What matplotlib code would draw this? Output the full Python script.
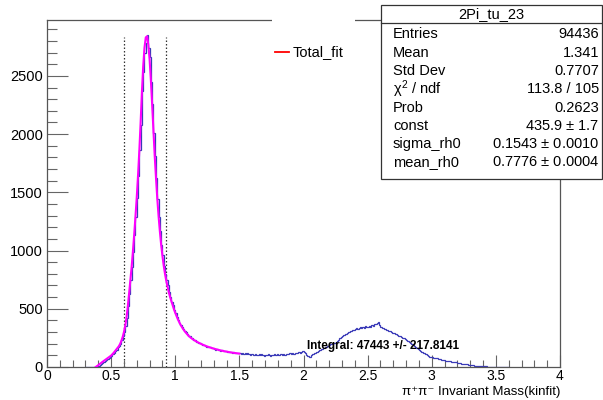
import numpy as np
import matplotlib
matplotlib.use("Agg")
import matplotlib.pyplot as plt
from matplotlib.patches import Rectangle
from matplotlib.lines import Line2D
from matplotlib.ticker import MultipleLocator, FuncFormatter

plt.rcParams['font.family'] = ['Liberation Sans', 'DejaVu Sans']
plt.rcParams['mathtext.fontset'] = 'custom'
plt.rcParams['mathtext.rm'] = 'Liberation Sans'
plt.rcParams['mathtext.it'] = 'Liberation Sans'

# ---------------- data ----------------
bin_lo = 0.30
bin_width = 0.01
counts = [
    0, 0, 0, 0, 0, 0, 0, 0, 2, 5,
    12, 20, 30, 38, 46, 55, 62, 72, 78, 86,
    95, 108, 122, 140, 150, 168, 178, 198, 228, 262,
    298, 350, 425, 520, 630, 750, 860, 990, 1130, 1290,
    1450, 1640, 1860, 2080, 2370, 2530, 2700, 2780, 2850, 2740,
    2660, 2450, 2260, 2010, 1810, 1620, 1440, 1290, 1170, 1050,
    960, 870, 800, 745, 700, 640, 605, 560, 535, 490,
    465, 430, 405, 380, 360, 345, 330, 310, 300, 282,
    270, 262, 250, 245, 232, 230, 218, 215, 205, 210,
    195, 192, 188, 180, 176, 175, 168, 170, 160, 162,
    158, 150, 152, 146, 148, 140, 142, 138, 134, 136,
    130, 132, 126, 128, 122, 125, 120, 118, 122, 116,
    118, 112, 120, 110, 118, 108, 116, 112, 106, 114,
    110, 104, 112, 106, 100, 108, 104, 110, 102, 98,
    106, 100, 108, 102, 96, 104, 100, 108, 104, 110,
    102, 106, 112, 104, 110, 106, 114, 108, 112, 116,
    110, 118, 114, 120, 116, 124, 128, 122, 132, 138,
    130, 118, 105, 95, 88, 90, 100, 108, 118, 124,
    130, 136, 142, 146, 152, 160, 166, 172, 178, 184,
    190, 195, 200, 206, 210, 215, 222, 235, 245, 258,
    265, 272, 280, 286, 292, 300, 305, 310, 318, 322,
    326, 332, 328, 336, 340, 332, 344, 338, 348, 342,
    346, 355, 345, 360, 352, 365, 372, 380, 385, 360,
    345, 335, 338, 328, 322, 318, 312, 305, 300, 292,
    290, 284, 280, 272, 268, 262, 256, 250, 246, 240,
    232, 224, 215, 208, 200, 190, 182, 174, 165, 158,
    150, 140, 132, 124, 116, 108, 102, 95, 88, 85,
    82, 80, 78, 76, 74, 70, 67, 64, 60, 58,
    55, 53, 51, 50, 48, 47, 46, 44, 42, 40,
    37, 35, 32, 30, 28, 26, 24, 22, 20, 18,
    16, 15, 14, 12, 11, 10, 9, 8, 7, 6,
    6, 5, 5, 4, 4, 3, 3, 3, 2, 2,
    2, 1, 1, 1, 1, 1, 0, 1, 0, 0,
]

fit_mass = [0.38, 0.39, 0.40, 0.41, 0.42, 0.43, 0.44, 0.45, 0.46, 0.47,
            0.48, 0.49, 0.50, 0.51, 0.52, 0.53, 0.54, 0.55, 0.56, 0.57,
            0.58, 0.59, 0.60, 0.61, 0.62, 0.63, 0.64, 0.65, 0.66, 0.67,
            0.68, 0.69, 0.70, 0.71, 0.72, 0.73, 0.74, 0.75, 0.76, 0.77,
            0.78, 0.79, 0.80, 0.81, 0.82, 0.83, 0.84, 0.85, 0.86, 0.87,
            0.88, 0.89, 0.90, 0.91, 0.92, 0.93, 0.94, 0.95, 0.96, 0.97,
            0.98, 0.99, 1.00, 1.02, 1.04, 1.06, 1.08, 1.10, 1.12, 1.14,
            1.16, 1.18, 1.20, 1.22, 1.24, 1.26, 1.28, 1.30, 1.32, 1.34,
            1.36, 1.38, 1.40, 1.42, 1.44, 1.46, 1.48, 1.50]
fit_vals = [0, 8, 16, 25, 33, 42, 50, 58, 66, 74,
            82, 90, 98, 110, 122, 136, 150, 164, 178, 198,
            225, 258, 300, 355, 425, 520, 630, 745, 860, 995,
            1140, 1295, 1460, 1650, 1860, 2100, 2360, 2580, 2740, 2830,
            2840, 2770, 2640, 2460, 2250, 2030, 1810, 1620, 1445, 1295,
            1165, 1050, 955, 870, 800, 740, 690, 640, 600, 565,
            530, 495, 465, 410, 365, 328, 298, 272, 252, 236,
            222, 210, 199, 189, 180, 172, 165, 158, 152, 146,
            141, 136, 132, 128, 124, 121, 118, 115]

int_lo, int_hi = 0.60, 0.93
line_top = 2830

x_title = "\u03c0\u207a\u03c0\u207b Invariant Mass(kinfit)"
stats_title = "2Pi_tu_23"
stats_names = ["Entries", "Mean", "Std Dev", r"$\chi^{2}$ / ndf", "Prob",
               "const", "sigma_rh0", "mean_rh0"]
stats_vals = ["94436", "1.341", "0.7707", "113.8 / 105", "0.2623",
              r"435.9 $\pm$ 1.7", r"0.1543 $\pm$ 0.0010", r"0.7776 $\pm$ 0.0004"]

# ---------------- figure ----------------
W, H = 603, 400
fig = plt.figure(figsize=(W / 100, H / 100), dpi=100)
L, R, T, B = 47, 560, 20, 367
ax = fig.add_axes([L / W, 1 - B / H, (R - L) / W, (B - T) / H])

edges = bin_lo + bin_width * np.arange(len(counts) + 1)
ax.stairs(counts, edges, color='#3a3ab8', lw=0.9, zorder=2)
ax.plot(fit_mass, fit_vals, color='#ff00ff', lw=1.5, zorder=3)
for xv in (int_lo, int_hi):
    ax.plot([xv, xv], [0, line_top], color='#333333', lw=0.9,
            ls=(0, (1.2, 1.6)), zorder=1)

ax.set_xlim(0, 4)
ax.set_ylim(0, 2980)

for s in ['top', 'right', 'left', 'bottom']:
    ax.spines[s].set_color('#555555')
    ax.spines[s].set_linewidth(0.9)

ax.xaxis.set_major_locator(MultipleLocator(0.5))
ax.xaxis.set_minor_locator(MultipleLocator(0.1))
ax.yaxis.set_major_locator(MultipleLocator(500))
ax.yaxis.set_minor_locator(MultipleLocator(100))
ax.xaxis.set_major_formatter(FuncFormatter(lambda v, p: f"{v:g}"))
ax.yaxis.set_major_formatter(FuncFormatter(lambda v, p: f"{v:g}"))
ax.tick_params(axis='both', which='both', direction='in', color='#666666',
               top=False, right=False, labelsize=10.5, width=0.8)
ax.tick_params(axis='x', which='major', length=9, pad=1.5, labelsize=10)
ax.tick_params(axis='x', which='minor', length=5)
ax.tick_params(axis='y', which='major', length=15, pad=3)
ax.tick_params(axis='y', which='minor', length=7)

ax.text(2.03, 178, "Integral: 47443 +/- 217.8141", fontsize=8.5,
        fontweight='bold', ha='left', va='center', zorder=5)

fig.text(R / W, 1 - 398.5 / H, x_title, ha='right', va='bottom', fontsize=9.5,
         family=['Liberation Sans', 'DejaVu Sans'])

# legend (white box covering frame)
fig.patches.append(Rectangle((272 / W, 1 - 88 / H), (355 - 272) / W, (88 - 12) / H,
                             transform=fig.transFigure, facecolor='white',
                             edgecolor='none', zorder=2))
fig.lines.append(Line2D([275 / W, 289 / W], [1 - 52 / H, 1 - 52 / H],
                        transform=fig.transFigure, color='red', lw=1.3, zorder=3))
fig.text(293 / W, 1 - 52 / H, "Total_fit", ha='left', va='center',
         fontsize=10.5, zorder=4)

# stats box
bx0, bx1, by0, by1 = 381, 602, 5, 179
fig.patches.append(Rectangle((bx0 / W, 1 - by1 / H), (bx1 - bx0) / W, (by1 - by0) / H,
                             transform=fig.transFigure, facecolor='white',
                             edgecolor='#333333', lw=0.9, zorder=2))
fig.lines.append(Line2D([bx0 / W, bx1 / W], [1 - 22.7 / H, 1 - 22.7 / H],
                        transform=fig.transFigure, color='#333333', lw=0.9, zorder=3))
fig.text((bx0 + bx1) / 2 / W, 1 - 14 / H, stats_title, ha='center', va='center',
         fontsize=10.5, zorder=4)
row_y = 34.3
for name, val in zip(stats_names, stats_vals):
    fig.text(393 / W, 1 - row_y / H, name, ha='left', va='center',
             fontsize=10.5, zorder=4)
    fig.text(599 / W, 1 - row_y / H, val, ha='right', va='center',
             fontsize=10.5, zorder=4)
    row_y += 18.3

fig.savefig("out.png", dpi=100)
